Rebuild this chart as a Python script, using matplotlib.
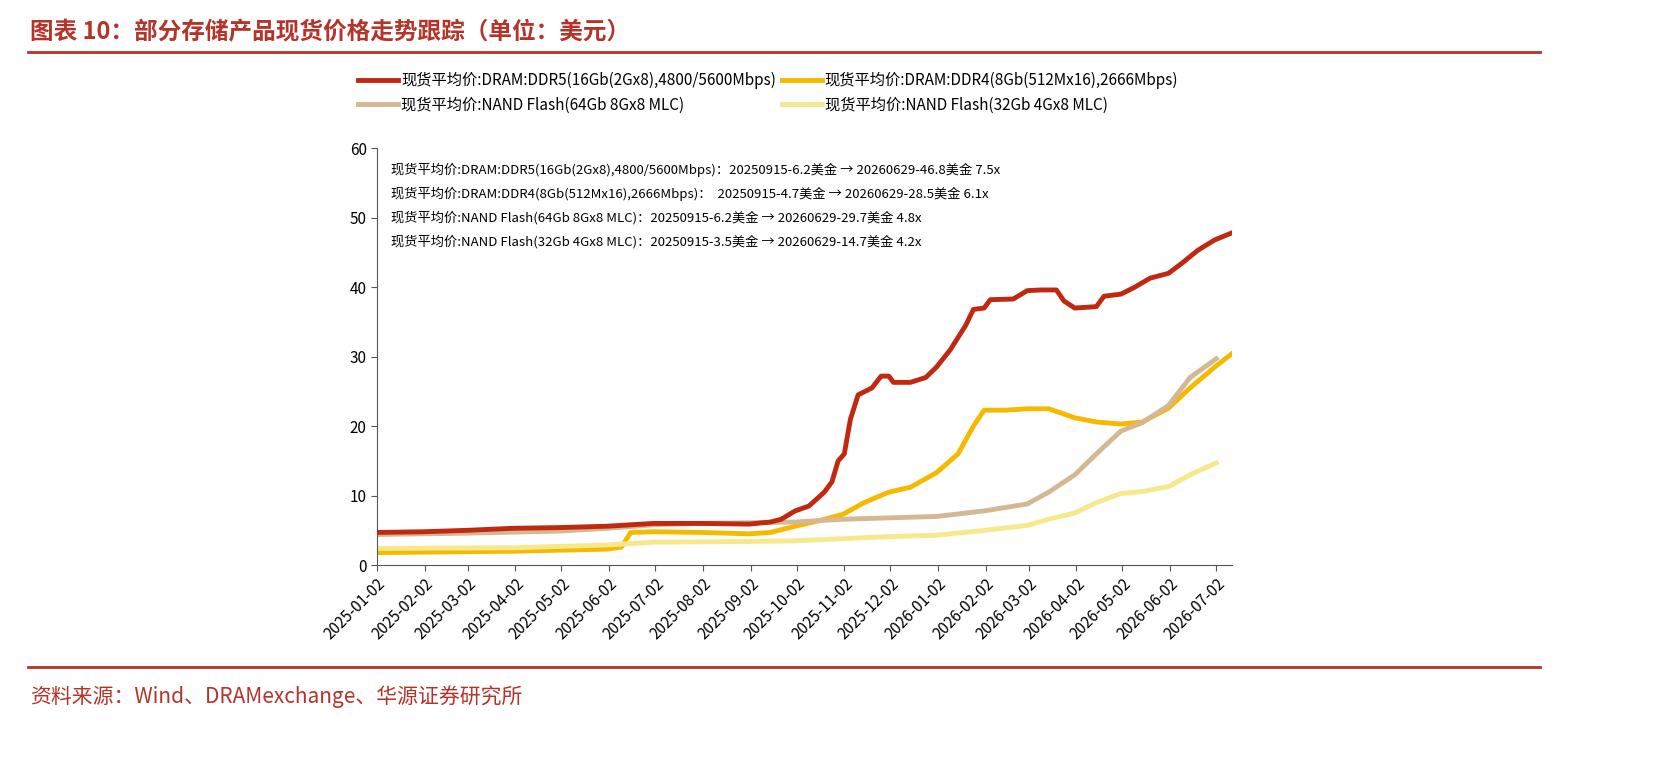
import matplotlib.pyplot as plt
import matplotlib.dates as mdates
import pandas as pd

plt.rcParams['font.family'] = ['Noto Sans CJK SC', 'DejaVu Sans']

ddr5_dates = ["2025-01-02", "2025-02-01", "2025-03-01", "2025-04-01", "2025-05-01", "2025-06-01",
              "2025-07-01", "2025-08-01", "2025-09-01", "2025-09-15", "2025-09-22", "2025-10-01",
              "2025-10-10", "2025-10-20", "2025-10-25", "2025-10-29", "2025-11-02", "2025-11-06",
              "2025-11-11", "2025-11-20", "2025-11-26", "2025-12-01", "2025-12-04", "2025-12-15",
              "2025-12-25", "2026-01-01", "2026-01-10", "2026-01-20", "2026-01-25", "2026-02-01",
              "2026-02-05", "2026-02-20", "2026-03-01", "2026-03-10", "2026-03-20", "2026-03-25",
              "2026-04-01", "2026-04-15", "2026-04-20", "2026-05-01", "2026-05-10", "2026-05-20",
              "2026-06-01", "2026-06-10", "2026-06-20", "2026-07-01", "2026-07-12"]
ddr5_vals = [4.7, 4.8, 5.0, 5.3, 5.4, 5.6, 6.0, 6.0, 5.9, 6.2, 6.6, 7.8, 8.5, 10.5, 12.0, 15.0,
             16.0, 21.0, 24.5, 25.5, 27.2, 27.2, 26.3, 26.3, 27.0, 28.5, 31.0, 34.5, 36.8, 37.0,
             38.2, 38.3, 39.5, 39.6, 39.6, 38.0, 37.0, 37.2, 38.7, 39.0, 40.0, 41.3, 42.0, 43.5,
             45.3, 46.8, 47.8]

ddr4_dates = ["2025-01-02", "2025-04-01", "2025-06-01", "2025-06-10", "2025-06-16", "2025-07-01",
              "2025-08-01", "2025-09-01", "2025-09-15", "2025-10-01", "2025-10-15", "2025-11-01",
              "2025-11-15", "2025-12-01", "2025-12-15", "2026-01-01", "2026-01-15", "2026-01-25",
              "2026-02-01", "2026-02-15", "2026-03-01", "2026-03-15", "2026-04-01", "2026-04-15",
              "2026-05-01", "2026-05-15", "2026-06-01", "2026-06-15", "2026-07-01", "2026-07-12"]
ddr4_vals = [1.8, 2.0, 2.3, 2.6, 4.7, 4.8, 4.7, 4.5, 4.7, 5.6, 6.3, 7.3, 9.0, 10.5, 11.2, 13.3,
             16.0, 20.0, 22.3, 22.3, 22.5, 22.5, 21.2, 20.6, 20.3, 20.6, 22.6, 25.5, 28.5, 30.4]

nand64_dates = ["2025-01-02", "2025-03-01", "2025-05-01", "2025-06-01", "2025-07-01", "2025-08-01",
                "2025-09-01", "2025-10-01", "2025-11-01", "2025-12-01", "2026-01-01", "2026-02-01",
                "2026-03-01", "2026-03-15", "2026-04-01", "2026-04-15", "2026-05-01", "2026-05-15",
                "2026-06-01", "2026-06-15", "2026-07-02"]
nand64_vals = [4.4, 4.6, 4.9, 5.3, 5.8, 6.0, 6.1, 6.2, 6.6, 6.8, 7.0, 7.8, 8.8, 10.5, 13.0, 16.0,
               19.3, 20.5, 23.0, 27.0, 29.7]

nand32_dates = ["2025-01-02", "2025-04-01", "2025-06-01", "2025-07-01", "2025-09-01", "2025-10-01",
                "2025-11-01", "2025-12-01", "2026-01-01", "2026-02-01", "2026-03-01", "2026-03-15",
                "2026-04-01", "2026-04-15", "2026-05-01", "2026-05-15", "2026-06-01", "2026-06-15",
                "2026-07-02"]
nand32_vals = [2.4, 2.5, 2.9, 3.3, 3.4, 3.5, 3.8, 4.1, 4.3, 5.0, 5.7, 6.6, 7.5, 9.0, 10.3, 10.6,
               11.3, 13.0, 14.7]

labels = ["现货平均价:DRAM:DDR5(16Gb(2Gx8),4800/5600Mbps)",
          "现货平均价:DRAM:DDR4(8Gb(512Mx16),2666Mbps)",
          "现货平均价:NAND Flash(64Gb 8Gx8 MLC)",
          "现货平均价:NAND Flash(32Gb 4Gx8 MLC)"]
notes = ["现货平均价:DRAM:DDR5(16Gb(2Gx8),4800/5600Mbps)：20250915-6.2美金 → 20260629-46.8美金 7.5x",
         "现货平均价:DRAM:DDR4(8Gb(512Mx16),2666Mbps)：  20250915-4.7美金 → 20260629-28.5美金 6.1x",
         "现货平均价:NAND Flash(64Gb 8Gx8 MLC)：20250915-6.2美金 → 20260629-29.7美金 4.8x",
         "现货平均价:NAND Flash(32Gb 4Gx8 MLC)：20250915-3.5美金 → 20260629-14.7美金 4.2x"]
colors = ["#C0280F", "#F5BA00", "#D4B893", "#F7E88C"]

series = [(ddr5_dates, ddr5_vals), (ddr4_dates, ddr4_vals),
          (nand64_dates, nand64_vals), (nand32_dates, nand32_vals)]
tick_dates = pd.date_range("2025-01-01", "2026-07-01", freq="MS") + pd.Timedelta(days=1)

fig = plt.figure(figsize=(16.56, 7.72), dpi=100)
ax = fig.add_axes([0.2277, 0.268, 0.516, 0.54])

handles = []
for (d, v), c, lab in zip(series, colors, labels):
    h, = ax.plot(pd.to_datetime(d), v, color=c, lw=3.5, label=lab)
    handles.append(h)
# draw ddr5 on top like the reference
handles[0].set_zorder(5)

ax.set_ylim(0, 60)
ax.set_yticks(range(0, 61, 10))
ax.set_xlim(pd.Timestamp("2025-01-02"), pd.Timestamp("2026-07-12"))
ax.set_xticks(tick_dates)
ax.xaxis.set_major_formatter(mdates.DateFormatter("%Y-%m-%d"))
for t in ax.get_xticklabels():
    t.set_rotation(45)
    t.set_ha("right")
    t.set_rotation_mode("anchor")
ax.tick_params(labelsize=11, length=4, color="#555555")
for s in ["top", "right"]:
    ax.spines[s].set_visible(False)
for s in ["left", "bottom"]:
    ax.spines[s].set_color("#555555")

for i, n in enumerate(notes):
    ax.text(0.016, 0.965 - i * 0.058, n, transform=ax.transAxes, fontsize=9.5, va="top")

# legend fills column-wise, so order handles for row-major reading
order = [0, 2, 1, 3]
fig.legend(handles=[handles[i] for i in order], loc="upper left", bbox_to_anchor=(0.208, 0.925),
           ncol=2, frameon=False, fontsize=11, handlelength=2.6, columnspacing=0.4,
           handletextpad=0.2, labelspacing=0.5)

red = "#B5342A"
fig.text(0.018, 0.958, "图表 10：部分存储产品现货价格走势跟踪（单位：美元）", fontsize=17,
         fontweight="bold", color=red, va="center")
fig.add_artist(plt.Line2D([0.017, 0.93], [0.933, 0.933], color=red, lw=2))
fig.add_artist(plt.Line2D([0.017, 0.93], [0.136, 0.136], color=red, lw=2))
fig.text(0.018, 0.098, "资料来源：Wind、DRAMexchange、华源证券研究所", fontsize=15,
         color=red, va="center")

fig.savefig("out.png", dpi=100)
